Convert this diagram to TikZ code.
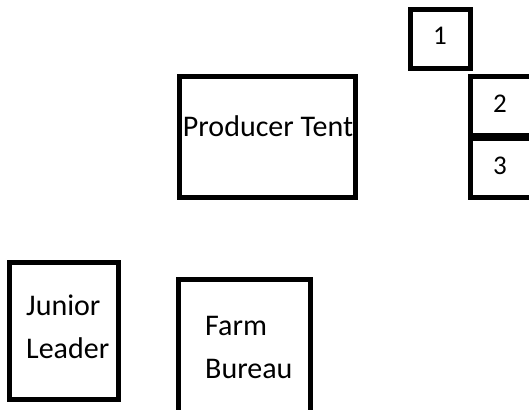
\documentclass[tikz,border=0pt]{standalone}
\usepackage{fontspec}
\setmainfont{Carlito}

\tikzset{
	puesto/.style={line width=5pt},
	rotulo/.style={font=\fontsize{30}{42.5}\selectfont,inner sep=0pt,align=left},
	numero/.style={font=\fontsize{27}{30}\selectfont,inner sep=0pt}
}

\begin{document}
\begin{tikzpicture}[x=1pt,y=-1pt]
\useasboundingbox (0,0) rectangle (529,409);
\clip (0,0) rectangle (529,409);
% los puestos
\foreach \Xa/\Ya/\Xb/\Yb in
{179.5/76.5/355.5/197.5, 410.5/9.5/470.5/68.5, 470.5/76.5/540/135.5,
 470.5/138.5/540/197.5, 9.5/262.5/118.5/399.5, 178.5/279.5/310.5/420}
{
	\draw[puesto] (\Xa,\Ya) rectangle (\Xb,\Yb);
}
% nombres (la base es la de la ultima linea)
\node[rotulo,anchor=base] (tent) at (268,136) {Producer Tent};
\foreach \Xc/\Yc/\Nombre/\Texto in
{26/358/junior/{Junior\\Leader}, 205/378/farm/{Farm\\Bureau}}
{
	\node[rotulo,anchor=base west] (\Nombre) at (\Xc,\Yc) {\Texto};
}
% numeros
\foreach \Xc/\Yc/\Nombre/\Texto in
{440/45/uno/1, 500/113/dos/2, 500/174/tres/3}
{
	\node[numero,anchor=base] (\Nombre) at (\Xc,\Yc) {\Texto};
}
\end{tikzpicture}
\end{document}
